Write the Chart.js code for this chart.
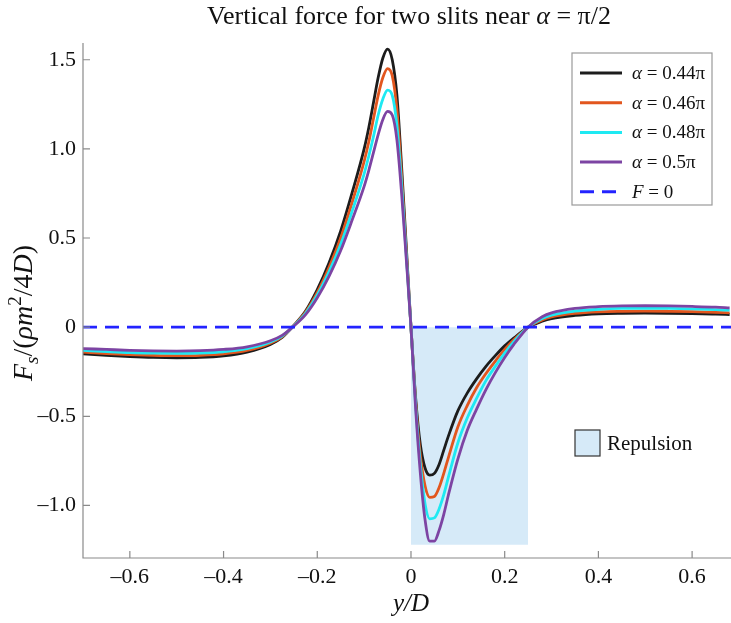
<!DOCTYPE html>
<html>
<head>
<meta charset="utf-8">
<script src="https://cdn.jsdelivr.net/npm/chart.js@4/dist/chart.umd.min.js"></script>
<style>
  html, body { margin: 0; padding: 0; background: #ffffff; }
  #wrap { width: 731px; height: 623px; }
</style>
</head>
<body>
<div id="wrap"><canvas id="c" width="731" height="623"></canvas></div>
<script>
// ---- data ----
const xs = [-0.7, -0.65, -0.6, -0.55, -0.5, -0.45, -0.4, -0.35, -0.3, -0.275, -0.25, -0.225, -0.2, -0.175, -0.15, -0.125, -0.1, -0.09, -0.08, -0.07, -0.06, -0.05, -0.04, -0.03, -0.02, -0.01, 0, 0.01, 0.02, 0.03, 0.04, 0.05, 0.06, 0.07, 0.08, 0.1, 0.12, 0.14, 0.16, 0.18, 0.2, 0.22, 0.25, 0.28, 0.3, 0.35, 0.4, 0.45, 0.5, 0.55, 0.6, 0.65, 0.68];

const a044 = [-0.15, -0.158, -0.165, -0.17, -0.172, -0.17, -0.161, -0.14, -0.097, -0.058, 0.01, 0.09, 0.21, 0.36, 0.54, 0.76, 1.0, 1.12, 1.26, 1.4, 1.51, 1.56, 1.5, 1.3, 0.9, 0.45, 0, -0.4, -0.66, -0.79, -0.83, -0.82, -0.77, -0.69, -0.61, -0.47, -0.37, -0.29, -0.22, -0.16, -0.105, -0.06, 0, 0.033, 0.048, 0.066, 0.075, 0.078, 0.079, 0.078, 0.076, 0.073, 0.071];
const a046 = [-0.14, -0.148, -0.154, -0.158, -0.16, -0.158, -0.15, -0.131, -0.09, -0.054, 0.01, 0.085, 0.195, 0.335, 0.5, 0.705, 0.93, 1.04, 1.17, 1.3, 1.4, 1.45, 1.41, 1.22, 0.85, 0.42, 0, -0.42, -0.72, -0.89, -0.955, -0.95, -0.9, -0.82, -0.73, -0.56, -0.44, -0.34, -0.26, -0.19, -0.125, -0.07, 0, 0.04, 0.057, 0.077, 0.086, 0.089, 0.09, 0.089, 0.087, 0.083, 0.08];
const a048 = [-0.13, -0.137, -0.143, -0.146, -0.147, -0.145, -0.138, -0.121, -0.083, -0.05, 0.008, 0.078, 0.18, 0.31, 0.465, 0.655, 0.86, 0.96, 1.07, 1.19, 1.28, 1.33, 1.3, 1.13, 0.8, 0.4, 0, -0.44, -0.77, -0.99, -1.075, -1.07, -1.02, -0.94, -0.84, -0.65, -0.51, -0.4, -0.3, -0.22, -0.145, -0.08, 0, 0.048, 0.067, 0.09, 0.1, 0.105, 0.106, 0.105, 0.102, 0.098, 0.095];
const a050 = [-0.12, -0.125, -0.13, -0.133, -0.134, -0.132, -0.125, -0.11, -0.076, -0.046, 0.006, 0.07, 0.165, 0.285, 0.43, 0.605, 0.79, 0.88, 0.98, 1.08, 1.165, 1.21, 1.19, 1.05, 0.75, 0.38, 0, -0.46, -0.82, -1.08, -1.2, -1.2, -1.14, -1.05, -0.94, -0.74, -0.58, -0.46, -0.35, -0.255, -0.17, -0.095, 0, 0.058, 0.08, 0.105, 0.115, 0.119, 0.12, 0.119, 0.116, 0.112, 0.108];

const zeroX = [-0.7, 0.683];
const zeroY = [0, 0];
const repulsionX = [0, 0.25];
const repulsionY = [-1.22, -1.22];

const seriesLabels = ['α = 0.44π', 'α = 0.46π', 'α = 0.48π', 'α = 0.5π', 'F = 0'];
const xTickValues = [-0.6, -0.4, -0.2, 0, 0.2, 0.4, 0.6];
const xTickLabels = ['–0.6', '–0.4', '–0.2', '0', '0.2', '0.4', '0.6'];
const yTickValues = [-1.0, -0.5, 0, 0.5, 1.0, 1.5];
const yTickLabels = ['–1.0', '–0.5', '0', '0.5', '1.0', '1.5'];
const titleText = 'Vertical force for two slits near ';

// ---- build ----
const pts = (xa, ya) => xa.map((x, i) => ({ x: x, y: ya[i] }));
const colors = ['#1c1c1c', '#e2561e', '#1ee9f2', '#7d44a3', '#2323ff'];
const SERIF = '"Liberation Serif", "Times New Roman", serif';

function curve(label, data, color) {
  return { label, data, borderColor: color, backgroundColor: color, borderWidth: 2.8,
    pointRadius: 0, cubicInterpolationMode: 'monotone', fill: false };
}

const datasets = [
  { label: seriesLabels[4], data: pts(zeroX, zeroY), borderColor: colors[4], borderWidth: 2.6,
    borderDash: [14, 8], pointRadius: 0, fill: false },
  curve(seriesLabels[3], pts(xs, a050), colors[3]),
  curve(seriesLabels[2], pts(xs, a048), colors[2]),
  curve(seriesLabels[1], pts(xs, a046), colors[1]),
  curve(seriesLabels[0], pts(xs, a044), colors[0]),
  { label: 'Repulsion', data: pts(repulsionX, repulsionY), borderWidth: 0, borderColor: 'rgba(0,0,0,0)',
    backgroundColor: '#d6eaf8', fill: 'origin', pointRadius: 0, tension: 0 }
];

const decor = {
  id: 'decor',
  afterDraw(chart) {
    const ctx = chart.ctx;
    const xS = chart.scales.x, yS = chart.scales.y;
    const ca = chart.chartArea;
    ctx.save();
    // axis lines
    ctx.strokeStyle = '#8a8a8a';
    ctx.lineWidth = 1.2;
    ctx.beginPath();
    ctx.moveTo(ca.left, ca.top); ctx.lineTo(ca.left, ca.bottom); ctx.lineTo(ca.right, ca.bottom);
    ctx.stroke();
    // inward ticks
    ctx.beginPath();
    xTickValues.forEach(v => { const p = xS.getPixelForValue(v); ctx.moveTo(p, ca.bottom); ctx.lineTo(p, ca.bottom - 7); });
    yTickValues.forEach(v => { const p = yS.getPixelForValue(v); ctx.moveTo(ca.left, p); ctx.lineTo(ca.left + 7, p); });
    ctx.stroke();

    ctx.fillStyle = '#111';
    ctx.textBaseline = 'alphabetic';
    // title
    const TF = 26;
    ctx.font = TF + 'px ' + SERIF;
    const w1 = ctx.measureText(titleText).width;
    ctx.font = 'italic ' + TF + 'px ' + SERIF;
    const wA = ctx.measureText('α').width;
    ctx.font = TF + 'px ' + SERIF;
    const w3 = ctx.measureText(' = π/2').width;
    let tx = 409 - (w1 + wA + w3) / 2;
    const ty = 24;
    ctx.textAlign = 'left';
    ctx.fillText(titleText, tx, ty); tx += w1;
    ctx.font = 'italic ' + TF + 'px ' + SERIF; ctx.fillText('α', tx, ty); tx += wA;
    ctx.font = TF + 'px ' + SERIF; ctx.fillText(' = π/2', tx, ty);

    // x title
    ctx.font = 'italic 25px ' + SERIF;
    ctx.textAlign = 'center';
    ctx.fillText('y/D', xS.getPixelForValue(0), 611);

    // y title (rotated, with sub/superscripts)
    ctx.save();
    ctx.translate(32, 313);
    ctx.rotate(-Math.PI / 2);
    const parts = [
      ['italic 28px ', 'F', 0], ['italic 19px ', 's', 6], ['28px ', '/(', 0], ['italic 28px ', 'ρm', 0],
      ['19px ', '2', -11], ['28px ', '/4', 0], ['italic 28px ', 'D', 0], ['28px ', ')', 0]
    ];
    let total = 0;
    parts.forEach(p => { ctx.font = p[0] + SERIF; total += ctx.measureText(p[1]).width; });
    let px = -total / 2;
    ctx.textAlign = 'left';
    parts.forEach(p => { ctx.font = p[0] + SERIF; ctx.fillText(p[1], px, p[2]); px += ctx.measureText(p[1]).width; });
    ctx.restore();

    // legend box
    const lx = 572, ly = 53, lw = 140, lh = 152;
    ctx.fillStyle = '#ffffff';
    ctx.fillRect(lx, ly, lw, lh);
    ctx.strokeStyle = '#9a9a9a'; ctx.lineWidth = 1.2;
    ctx.strokeRect(lx, ly, lw, lh);
    const order = [4, 3, 2, 1, 0];
    order.forEach((di, i) => {
      const ds = chart.data.datasets[di];
      const y = 73 + i * 29.7;
      ctx.strokeStyle = ds.borderColor; ctx.lineWidth = 3;
      ctx.setLineDash(ds.borderDash || []);
      ctx.beginPath(); ctx.moveTo(580, y); ctx.lineTo(622, y); ctx.stroke();
      ctx.setLineDash([]);
      ctx.fillStyle = '#111';
      ctx.textAlign = 'left';
      const lab = ds.label;
      ctx.font = 'italic 19px ' + SERIF;
      const first = lab.charAt(0);
      ctx.fillText(first, 632, y + 6);
      const fw = ctx.measureText(first).width;
      ctx.font = '19px ' + SERIF;
      ctx.fillText(lab.slice(1), 632 + fw, y + 6);
    });

    // repulsion legend
    const rds = chart.data.datasets[5];
    ctx.fillStyle = rds.backgroundColor;
    ctx.fillRect(575, 430, 25, 26);
    ctx.strokeStyle = '#333'; ctx.lineWidth = 1.2;
    ctx.strokeRect(575, 430, 25, 26);
    ctx.fillStyle = '#111';
    ctx.font = '21px ' + SERIF;
    ctx.fillText(rds.label, 607, 450);
    ctx.restore();
  }
};

new Chart(document.getElementById('c'), {
  type: 'line',
  data: { datasets },
  options: {
    responsive: false,
    animation: false,
    layout: { padding: { top: 43, right: 0, left: 0, bottom: 0 } },
    plugins: { legend: { display: false }, title: { display: false }, tooltip: { enabled: false } },
    scales: {
      x: {
        type: 'linear', min: -0.7, max: 0.683,
        grid: { display: false, drawTicks: false },
        border: { display: false },
        afterBuildTicks: s => { s.ticks = xTickValues.map(v => ({ value: v })); },
        afterFit: s => { s.height = 65; },
        ticks: { padding: 6, color: '#111', font: { family: SERIF, size: 22 },
          callback: v => { const i = xTickValues.findIndex(t => Math.abs(t - v) < 1e-9); return i >= 0 ? xTickLabels[i] : ''; } }
      },
      y: {
        type: 'linear', min: -1.295, max: 1.594,
        grid: { display: false, drawTicks: false },
        border: { display: false },
        afterBuildTicks: s => { s.ticks = yTickValues.map(v => ({ value: v })); },
        afterFit: s => { s.width = 83; },
        ticks: { padding: 7, color: '#111', font: { family: SERIF, size: 22 },
          callback: v => { const i = yTickValues.findIndex(t => Math.abs(t - v) < 1e-9); return i >= 0 ? yTickLabels[i] : ''; } }
      }
    }
  },
  plugins: [decor]
});
</script>
</body>
</html>
